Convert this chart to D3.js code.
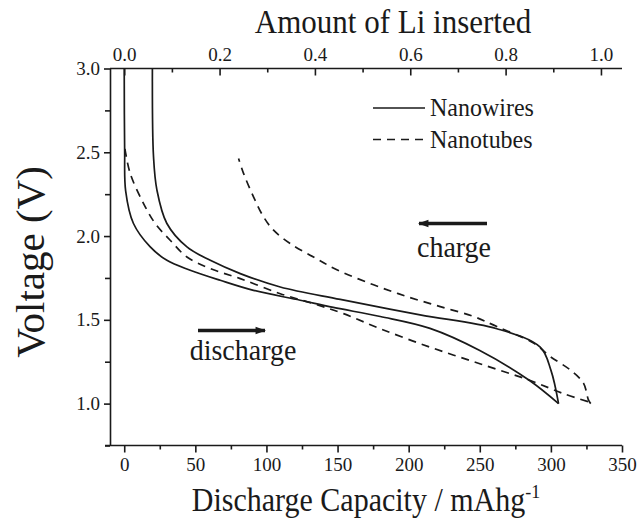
<!DOCTYPE html>
<html>
<head>
<meta charset="utf-8">
<script src="https://cdn.jsdelivr.net/npm/d3@7"></script>
<style>
html,body{margin:0;padding:0;background:#fff;}
svg{display:block;}
text{font-family:"Liberation Serif","Times New Roman",serif;fill:#1a1a1a;}
</style>
</head>
<body>
<svg id="chart" width="639" height="519"></svg>
<script>
// ---- data (capacity mAh/g, voltage V) ----
const wiresDischargeCap = [0, 0.3, 1.0, 6.5, 18.3, 30, 46.4, 67.5, 90.9, 123.7, 147, 180, 215, 250, 285, 305.4];
const wiresDischargeV   = [3.0, 2.51, 2.27, 2.075, 1.935, 1.855, 1.796, 1.736, 1.676, 1.617, 1.574, 1.52, 1.449, 1.317, 1.138, 1.0];
const wiresChargeCap = [305.4, 300, 292.5, 262, 208, 151.9, 109.7, 81.6, 60.5, 44.1, 30, 23, 20.6, 19.8];
const wiresChargeV   = [1.0, 1.2, 1.337, 1.447, 1.53, 1.622, 1.696, 1.776, 1.855, 1.935, 2.075, 2.274, 2.473, 3.0];
const tubesDischargeCap = [0.5, 4.2, 13.6, 21.8, 32.3, 44.1, 60.5, 81.6, 109.7, 133, 154.2, 180, 215, 250, 285.5, 309, 327.6];
const tubesDischargeV   = [2.52, 2.374, 2.194, 2.075, 1.975, 1.875, 1.806, 1.746, 1.656, 1.597, 1.537, 1.447, 1.337, 1.238, 1.138, 1.059, 1.008];
const tubesChargeCap = [328.0, 326.4, 322.9, 313.6, 299.5, 287.8, 262.0, 245.6, 222.2, 198.8, 175.3, 149.5, 133.1, 116.7, 105, 98, 90.9, 83.9, 80.4];
const tubesChargeV   = [1.0, 1.022, 1.122, 1.201, 1.281, 1.361, 1.460, 1.520, 1.579, 1.639, 1.709, 1.799, 1.875, 1.955, 2.035, 2.114, 2.234, 2.374, 2.463];

const capTicks = [0, 50, 100, 150, 200, 250, 300, 350];
const capMinor = [25, 75, 125, 175, 225, 275, 325];
const vTicks = [1.0, 1.5, 2.0, 2.5, 3.0];
const vMinor = [0.75, 1.25, 1.75, 2.25, 2.75];
const liTicks = [0.0, 0.2, 0.4, 0.6, 0.8, 1.0];
const liMinor = [0.1, 0.3, 0.5, 0.7, 0.9];
const capPerLi = 335.2;

const seriesNames = ["Nanowires", "Nanotubes"];

// ---- layout ----
const svg = d3.select("#chart");
const L = 110, R = 622, T = 68.5, B = 445.5;
const x = d3.scaleLinear().domain([-10, 350]).range([L, R]);
const y = d3.scaleLinear().domain([0.75, 3.0]).range([B, T]);
const xTop = d3.scaleLinear().domain([-10 / capPerLi, 350 / capPerLi]).range([L, R]);

function styleAxis(g) {
  g.selectAll("path.domain").attr("stroke", "#1a1a1a").attr("stroke-width", 1.6);
  g.selectAll("line").attr("stroke", "#1a1a1a").attr("stroke-width", 1.6);
  g.selectAll("text").style("font-size", "19px").attr("fill", "#1a1a1a");
}

// bottom axis
const gb = svg.append("g").attr("transform", `translate(0,${B})`);
gb.call(d3.axisBottom(x).tickValues(capTicks).tickSize(7).tickSizeOuter(0).tickPadding(5).tickFormat(d3.format("d")));
gb.append("g").call(d3.axisBottom(x).tickValues(capMinor).tickSize(4).tickSizeOuter(0).tickFormat(""))
  .select("path.domain").remove();
styleAxis(gb);
gb.select("path.domain").attr("d", `M${L - 5},0H${R}`);

// left axis
const gl = svg.append("g").attr("transform", `translate(${L},0)`);
gl.call(d3.axisLeft(y).tickValues(vTicks).tickSize(6).tickSizeOuter(0).tickPadding(4).tickFormat(d3.format(".1f")));
gl.append("g").call(d3.axisLeft(y).tickValues(vMinor).tickSize(5).tickSizeOuter(0).tickFormat(""))
  .select("path.domain").remove();
styleAxis(gl);

// top axis (ticks pointing inward)
const gt = svg.append("g").attr("transform", `translate(0,${T})`);
gt.call(d3.axisTop(xTop).tickValues(liTicks).tickSize(-7).tickSizeOuter(0).tickPadding(8).tickFormat(d3.format(".1f")));
gt.append("g").call(d3.axisTop(xTop).tickValues(liMinor).tickSize(-4).tickSizeOuter(0).tickFormat(""))
  .select("path.domain").remove();
styleAxis(gt);
gt.select("path.domain").attr("d", `M${L},0H${R}`);

// axis titles
svg.append("text").attr("transform", "translate(393,33) scale(1,1.1)").attr("text-anchor", "middle")
  .style("font-size", "31px").text("Amount of Li inserted");
const xt = svg.append("text").attr("transform", "translate(366,511) scale(1,1.1)").attr("text-anchor", "middle")
  .style("font-size", "30px");
xt.append("tspan").text("Discharge Capacity / mAhg");
xt.append("tspan").attr("dy", -12).style("font-size", "18px").text("-1");
svg.append("text").attr("transform", `translate(44,262) rotate(-90)`).attr("text-anchor", "middle")
  .style("font-size", "41px").text("Voltage (V)");

// curves
const line = d3.line().x(d => x(d[0])).y(d => y(d[1])).curve(d3.curveCatmullRom.alpha(0.5));
const zip = (a, b) => a.map((v, i) => [v, b[i]]);
const curves = [
  {pts: zip(wiresDischargeCap, wiresDischargeV), dash: null},
  {pts: zip(wiresChargeCap, wiresChargeV), dash: null},
  {pts: zip(tubesDischargeCap, tubesDischargeV), dash: "8,6"},
  {pts: zip(tubesChargeCap, tubesChargeV), dash: "8,6"}
];
svg.append("defs").append("clipPath").attr("id", "clip")
  .append("rect").attr("x", L).attr("y", T).attr("width", R - L).attr("height", B - T);
svg.append("g").attr("clip-path", "url(#clip)").selectAll("path.curve").data(curves).join("path")
  .attr("class", "curve")
  .attr("d", d => line(d.pts))
  .attr("fill", "none").attr("stroke", "#1a1a1a").attr("stroke-width", 1.7)
  .attr("stroke-dasharray", d => d.dash);

// legend
const leg = svg.append("g");
seriesNames.forEach((name, i) => {
  const yy = 108 + i * 31.5;
  leg.append("line").attr("x1", 373).attr("x2", 425).attr("y1", yy).attr("y2", yy)
    .attr("stroke", "#1a1a1a").attr("stroke-width", 1.7)
    .attr("stroke-dasharray", i === 1 ? "8,6" : null);
  leg.append("text").attr("transform", `translate(430,${yy + 8}) scale(1,1.08)`).style("font-size", "24px").text(name);
});

// annotations
const defs = svg.select("defs");
defs.append("marker").attr("id", "ah").attr("viewBox", "0 0 10 10").attr("refX", 9).attr("refY", 5)
  .attr("markerWidth", 4).attr("markerHeight", 3).attr("markerUnits", "strokeWidth").attr("orient", "auto")
  .append("path").attr("d", "M0,1.5 L10,5 L0,8.5 Z").attr("fill", "#1a1a1a");
svg.append("line").attr("x1", 198).attr("x2", 265).attr("y1", 330.5).attr("y2", 330.5)
  .attr("stroke", "#1a1a1a").attr("stroke-width", 3.5).attr("marker-end", "url(#ah)");
svg.append("line").attr("x1", 487).attr("x2", 419).attr("y1", 223.5).attr("y2", 223.5)
  .attr("stroke", "#1a1a1a").attr("stroke-width", 3.5).attr("marker-end", "url(#ah)");
svg.append("text").attr("transform", "translate(243,360) scale(1,1.08)").attr("text-anchor", "middle").style("font-size", "28px").text("discharge");
svg.append("text").attr("transform", "translate(454,257) scale(1,1.08)").attr("text-anchor", "middle").style("font-size", "28px").text("charge");
</script>
</body>
</html>
